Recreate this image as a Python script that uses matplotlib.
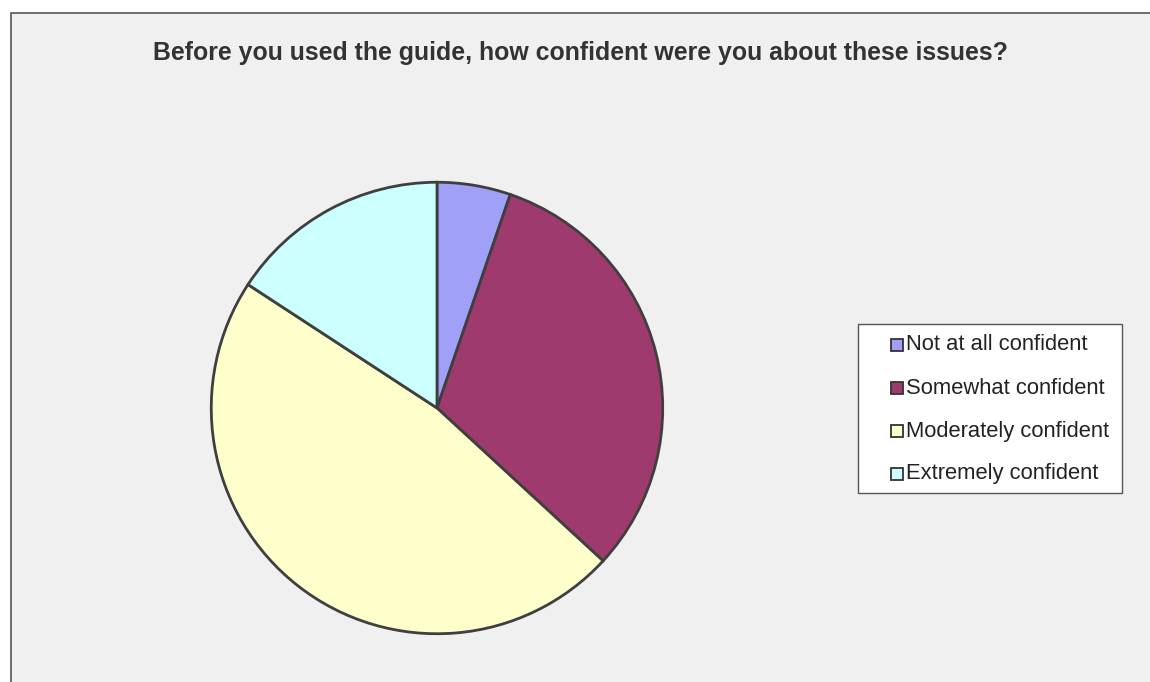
import matplotlib
matplotlib.use("Agg")
import matplotlib.pyplot as plt
from matplotlib.patches import Rectangle

categories = ["Not at all confident", "Somewhat confident", "Moderately confident", "Extremely confident"]
values = [1, 6, 9, 3]
colors = ["#A0A0F8", "#9E3A6E", "#FFFFCC", "#CCFFFF"]
title = "Before you used the guide, how confident were you about these issues?"

W, H = 1150, 682
fig = plt.figure(figsize=(W / 100, H / 100), dpi=100)
fig.patch.set_facecolor("white")

# background panel
bg = fig.add_axes([0, 0, 1, 1], zorder=-5)
bg.set_xlim(0, W)
bg.set_ylim(H, 0)
bg.axis("off")
bg.add_patch(Rectangle((11, 13), W + 50, H + 50, facecolor="#F0F0F0",
                       edgecolor="#555555", linewidth=1.2))

cx, cy, r = 437, 408, 228
ax = fig.add_axes([(cx - r) / W, (H - cy - r) / H, 2 * r / W, 2 * r / H])
ax.pie(values, colors=colors, startangle=90, counterclock=False,
       wedgeprops=dict(edgecolor="#3F3F3F", linewidth=2))
ax.set_xlim(-1.01, 1.01)
ax.set_ylim(-1.01, 1.01)
ax.set_aspect("equal")
ax.axis("off")

bg.text(580, 53, title, ha="center", va="center", fontsize=17.9,
        fontweight="bold", color="#333333", family="Liberation Sans")

# legend box
lx0, ly0, lx1, ly1 = 858, 324, 1122, 493
bg.add_patch(Rectangle((lx0, ly0), lx1 - lx0, ly1 - ly0, facecolor="white",
                       edgecolor="#555555", linewidth=1.0))
row0, pitch, sq = 345, 43, 12
for i, (lab, c) in enumerate(zip(categories, colors)):
    yc = row0 + i * pitch
    bg.add_patch(Rectangle((891, yc - sq / 2), sq, sq, facecolor=c,
                           edgecolor="#333333", linewidth=1.3))
    bg.text(906, yc, lab, ha="left", va="center", fontsize=15.8,
            color="#222222", family="Liberation Sans")

fig.savefig("out.png", dpi=100, facecolor=fig.get_facecolor())
